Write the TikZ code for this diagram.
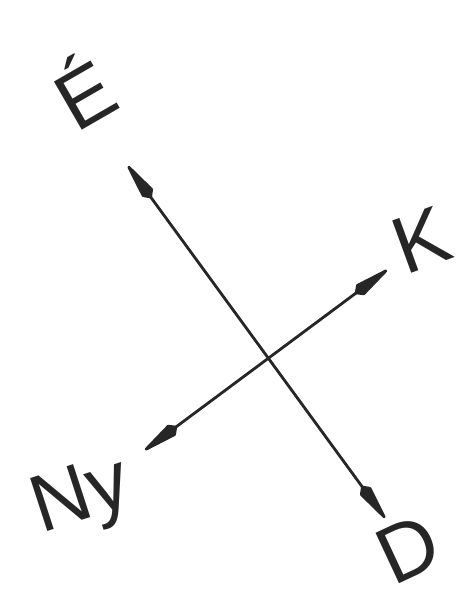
\documentclass[tikz,border=0pt]{standalone}
\usepackage{fontspec}
\setmainfont{Liberation Sans}
\usetikzlibrary{arrows.meta}

\begin{document}
\begin{tikzpicture}[
    x=0.02cm, y=-0.02cm,
    axis/.style={
      {Kite[length=0.95cm,width=0.27cm,inset=0.14cm,round]}-{Kite[length=0.95cm,width=0.27cm,inset=0.14cm,round]},
      line width=1.6pt,
      color=black!85
    },
    lbl/.style={
      font=\fontsize{46}{50}\selectfont,
      inner sep=0pt,
      color=black!85,
      rotate=#1
    }
  ]
  \useasboundingbox (0,0) rectangle (467,597);

  % Arrow ends
  \coordinate (eTip)  at (128,166);
  \coordinate (dTip)  at (385,518);
  \coordinate (kTip)  at (387,270);
  \coordinate (nyTip) at (145,450);

  \draw[axis] (eTip) -- (dTip);
  \draw[axis] (nyTip) -- (kTip);

  % Labels
  \node[lbl=30] (e)  at (82,90)   {\'E};
  \node[lbl=20] (k)  at (421,240) {K};
  \node[lbl=18] (ny) at (82,500)  {Ny};
  \node[lbl=25] (d)  at (408,549) {D};

\end{tikzpicture}
\end{document}
